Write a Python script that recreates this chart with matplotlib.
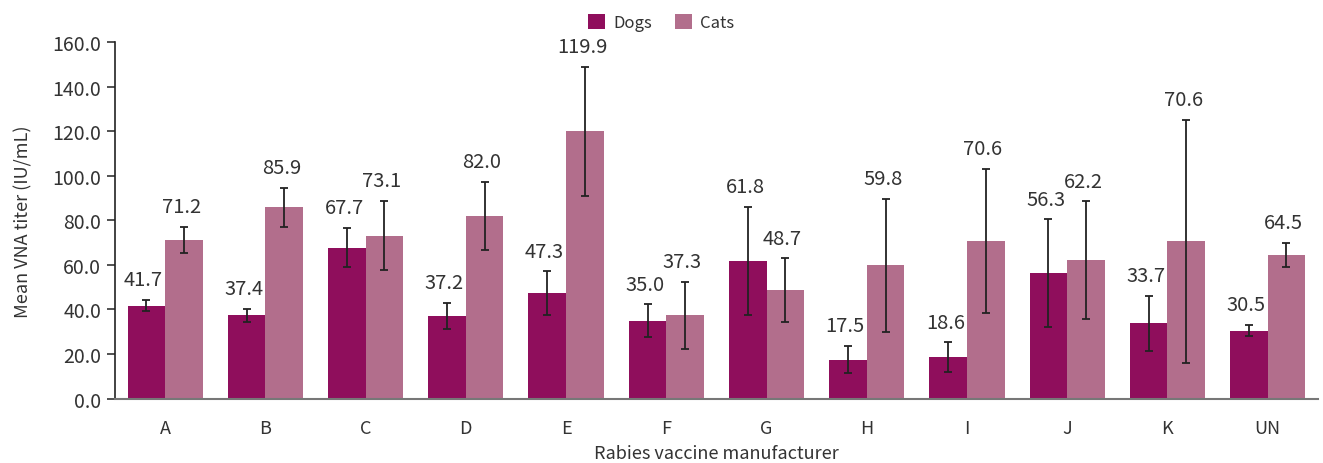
import numpy as np
import matplotlib
matplotlib.use("Agg")
import matplotlib.pyplot as plt

plt.rcParams['font.family'] = ['Noto Sans CJK KR', 'DejaVu Sans']
plt.rcParams['font.weight'] = 'light'

# Mean VNA titer per manufacturer, with error bar half-widths
manufacturers = ["A", "B", "C", "D", "E", "F", "G", "H", "I", "J", "K", "UN"]
dogs = [41.7, 37.4, 67.7, 37.2, 47.3, 35.0, 61.8, 17.5, 18.6, 56.3, 33.7, 30.5]
cats = [71.2, 85.9, 73.1, 82.0, 119.9, 37.3, 48.7, 59.8, 70.6, 62.2, 70.6, 64.5]
dogs_err = [2.5, 3.0, 8.8, 5.9, 9.8, 7.3, 24.1, 6.2, 6.6, 24.1, 12.4, 2.6]
cats_err = [6.0, 8.8, 15.5, 15.2, 28.9, 15.0, 14.2, 29.9, 32.4, 26.3, 54.5, 5.3]

dog_color = "#8F0E5C"
cat_color = "#B26E8C"
text_color = "#333333"

fig = plt.figure(figsize=(13.23, 4.64), dpi=100)
ax = fig.add_axes([0.087, 0.139, 0.909, 0.768])

x = np.arange(len(manufacturers))
w = 0.375

err_kw = dict(ecolor="#222222", elinewidth=1.3, capsize=3, capthick=1.3)
b1 = ax.bar(x - w / 2, dogs, w, color=dog_color, label="Dogs",
            yerr=dogs_err, error_kw=err_kw)
b2 = ax.bar(x + w / 2, cats, w, color=cat_color, label="Cats",
            yerr=cats_err, error_kw=err_kw)

# value labels sit just above the top of each error bar
for xs, vals, errs in [(x - w / 2, dogs, dogs_err), (x + w / 2, cats, cats_err)]:
    for xi, v, e in zip(xs, vals, errs):
        ax.annotate(f"{v:.1f}", (xi, v + e), xytext=(-2, 7),
                    textcoords="offset points", ha="center", va="bottom",
                    fontsize=14.5, color=text_color)

ax.set_xlim(-0.5, 11.5)
ax.set_ylim(0, 160)
ax.set_yticks(np.arange(0, 161, 20))
ax.set_yticklabels([f"{t:.1f}" for t in np.arange(0, 161, 20)])
ax.set_xticks(x)
ax.set_xticklabels(manufacturers)

ax.tick_params(axis="y", direction="out", length=6, width=1.2,
               labelsize=14, colors=text_color, pad=4)
ax.tick_params(axis="x", length=0, labelsize=13, colors=text_color, pad=15)

for side in ["top", "right"]:
    ax.spines[side].set_visible(False)
ax.spines["left"].set_color("#222222")
ax.spines["left"].set_linewidth(1.2)
ax.spines["bottom"].set_color("#777777")
ax.spines["bottom"].set_linewidth(1.5)

ax.set_ylabel("Mean VNA titer (IU/mL)", fontsize=13, color=text_color, labelpad=14)
ax.set_xlabel("Rabies vaccine manufacturer", fontsize=13, color=text_color, labelpad=5)

fig.legend(handles=[b1, b2], labels=["Dogs", "Cats"], loc="upper center",
           bbox_to_anchor=(0.5, 1.0), ncol=2, frameon=False, fontsize=12,
           handlelength=1.0, handleheight=1.0, handletextpad=0.5, columnspacing=1.4,
           labelcolor=text_color)

fig.savefig("out.png", dpi=100)
